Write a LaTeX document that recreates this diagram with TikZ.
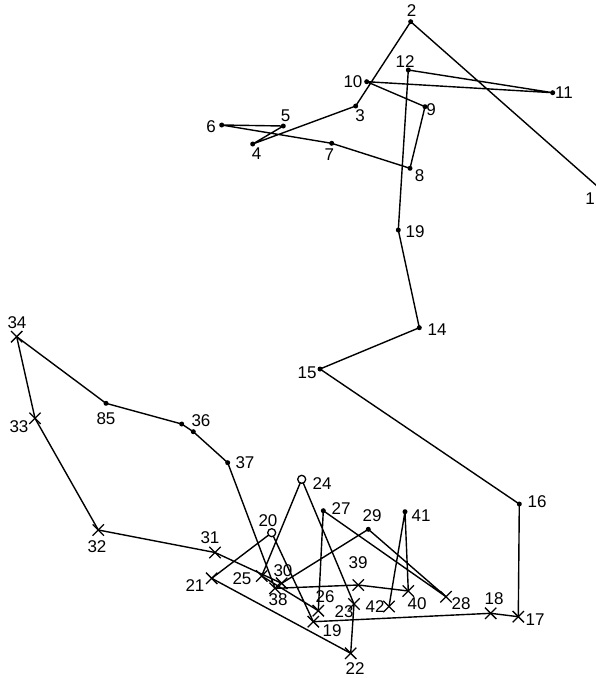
\documentclass[tikz,border=0pt]{standalone}
\usepackage{fontspec}
\setmainfont{Liberation Sans}
\usetikzlibrary{shapes.misc}
\tikzset{
  pt/.style={inner sep=0pt, minimum size=0pt},
  dotm/.style={circle, fill=black, inner sep=0pt, minimum size=5pt},
  ringm/.style={circle, draw=black, line width=1.3pt, fill=white, inner sep=0pt, minimum size=8pt},
  crossm/.style={cross out, draw=black, line width=1.3pt, inner sep=0pt, minimum size=10pt},
  lbl/.style={font=\fontsize{17}{17}\selectfont, inner sep=0pt, text=black},
  walk/.style={line width=1.4pt, black, line join=round}
}
\begin{document}
\begin{tikzpicture}[x=1pt, y=-1pt]
\useasboundingbox (0,0) rectangle (596,678);
\fill[white] (0,0) rectangle (596,678);
% points
\coordinate (p1) at (597,186);
\node[pt] (p2) at (410.7,21.7) {};
\node[pt] (p3) at (355.7,106) {};
\node[pt] (p4) at (252.7,144) {};
\node[pt] (p5) at (283.3,126) {};
\node[pt] (p6) at (221.7,125) {};
\node[pt] (p7) at (331.7,143.3) {};
\node[pt] (p8) at (410,168.3) {};
\node[pt] (p9) at (425,106.7) {};
\node[pt] (p10) at (366.7,81.7) {};
\node[pt] (p11) at (552.7,92.7) {};
\node[pt] (p12) at (408.3,70) {};
\node[pt] (p13) at (398.3,230) {};
\node[pt] (p14) at (419.3,327.7) {};
\node[pt] (p15) at (320,369) {};
\node[pt] (p16) at (519.3,504) {};
\node[pt] (p17) at (518.3,616.7) {};
\node[pt] (p18) at (490.7,613.3) {};
\node[pt] (p19) at (313.3,621.7) {};
\node[pt] (p20) at (271.7,532.7) {};
\node[pt] (p21) at (211.7,578.3) {};
\node[pt] (p22) at (350.7,653.3) {};
\node[pt] (p23) at (354,604) {};
\node[pt] (p24) at (301.7,479.3) {};
\node[pt] (p25) at (261.7,576) {};
\node[pt] (p26) at (318.3,610.7) {};
\node[pt] (p27) at (323.3,510.7) {};
\node[pt] (p28) at (446,596.7) {};
\node[pt] (p29) at (368.3,529.3) {};
\node[pt] (p30) at (281.7,583.3) {};
\node[pt] (p31) at (215,552.5) {};
\node[pt] (p32) at (98.3,530) {};
\node[pt] (p33) at (35,418.3) {};
\node[pt] (p34) at (16.7,336.7) {};
\node[pt] (p35) at (106,403.3) {};
\node[pt] (p36) at (181.7,424) {};
\node[pt] (p36b) at (193.3,431.7) {};
\node[pt] (p37) at (227.7,462.7) {};
\node[pt] (p38) at (275,588.3) {};
\node[pt] (p39) at (358.3,585) {};
\node[pt] (p40) at (408.3,591) {};
\node[pt] (p41) at (405,511.7) {};
\node[pt] (p42) at (389,606.5) {};
% the walk
\draw[walk] (p1) -- (p2.center) -- (p3.center) -- (p4.center) -- (p5.center) -- (p6.center) -- (p7.center) -- (p8.center) -- (p9.center) -- (p10.center) -- (p11.center) -- (p12.center) -- (p13.center) -- (p14.center) -- (p15.center) -- (p16.center) -- (p17.center) -- (p18.center) -- (p19.center) -- (p20.center) -- (p21.center) -- (p22.center) -- (p23.center) -- (p24.center) -- (p25.center) -- (p26.center) -- (p27.center) -- (p28.center) -- (p29.center) -- (p30.center) -- (p31.center) -- (p32.center) -- (p33.center) -- (p34.center) -- (p35.center) -- (p36.center) -- (p36b.center) -- (p37.center) -- (p38.center) -- (p39.center) -- (p40.center) -- (p41.center) -- (p42.center);
% markers
\foreach \p in {p2,p3,p4,p5,p6,p7,p8,p9,p10,p11,p12,p13,p14,p15,p16,p27,p29,p35,p36,p36b,p37,p41}
  \node[dotm] at (\p) {};
\foreach \p in {p20,p24}
  \node[ringm] at (\p) {};
\foreach \p in {p17,p18,p19,p21,p22,p23,p25,p26,p28,p30,p31,p32,p33,p34,p38,p39,p40,p42}
  \node[crossm] at (\p) {};
% labels
\node[lbl] (l1) at (590,199) {1};
\node[lbl] (l2) at (411.7,11) {2};
\node[lbl] (l3) at (360,116) {3};
\node[lbl] (l4) at (256.7,154) {4};
\node[lbl] (l5) at (285.5,116) {5};
\node[lbl] (l6) at (211,127) {6};
\node[lbl] (l7) at (329.3,155) {7};
\node[lbl] (l8) at (419.5,176) {8};
\node[lbl] (l9) at (431,110) {9};
\node[lbl] (l10) at (353,81.7) {10};
\node[lbl] (l11) at (564,92.7) {11};
\node[lbl] (l12) at (405,62) {12};
\node[lbl] (l13) at (415,232) {19};
\node[lbl] (l14) at (437,330) {14};
\node[lbl] (l15) at (307,373) {15};
\node[lbl] (l16) at (537,502) {16};
\node[lbl] (l17) at (535,620) {17};
\node[lbl] (l18) at (494,599) {18};
\node[lbl] (l19) at (332,631) {19};
\node[lbl] (l20) at (268,521) {20};
\node[lbl] (l21) at (195,586) {21};
\node[lbl] (l22) at (355,669) {22};
\node[lbl] (l23) at (344,612) {23};
\node[lbl] (l24) at (322,484) {24};
\node[lbl] (l25) at (242,579) {25};
\node[lbl] (l26) at (325,597) {26};
\node[lbl] (l27) at (341,509) {27};
\node[lbl] (l28) at (461,604) {28};
\node[lbl] (l29) at (372,516) {29};
\node[lbl] (l30) at (283,571) {30};
\node[lbl] (l31) at (210,538) {31};
\node[lbl] (l32) at (97,547) {32};
\node[lbl] (l33) at (19,427) {33};
\node[lbl] (l34) at (17,323) {34};
\node[lbl] (l35) at (106,419) {85};
\node[lbl] (l36) at (201,421) {36};
\node[lbl] (l37) at (245,463) {37};
\node[lbl] (l38) at (278,600) {38};
\node[lbl] (l39) at (358,563) {39};
\node[lbl] (l40) at (417,604) {40};
\node[lbl] (l41) at (421,516) {41};
\node[lbl] (l42) at (375,607) {42};
\end{tikzpicture}
\end{document}
